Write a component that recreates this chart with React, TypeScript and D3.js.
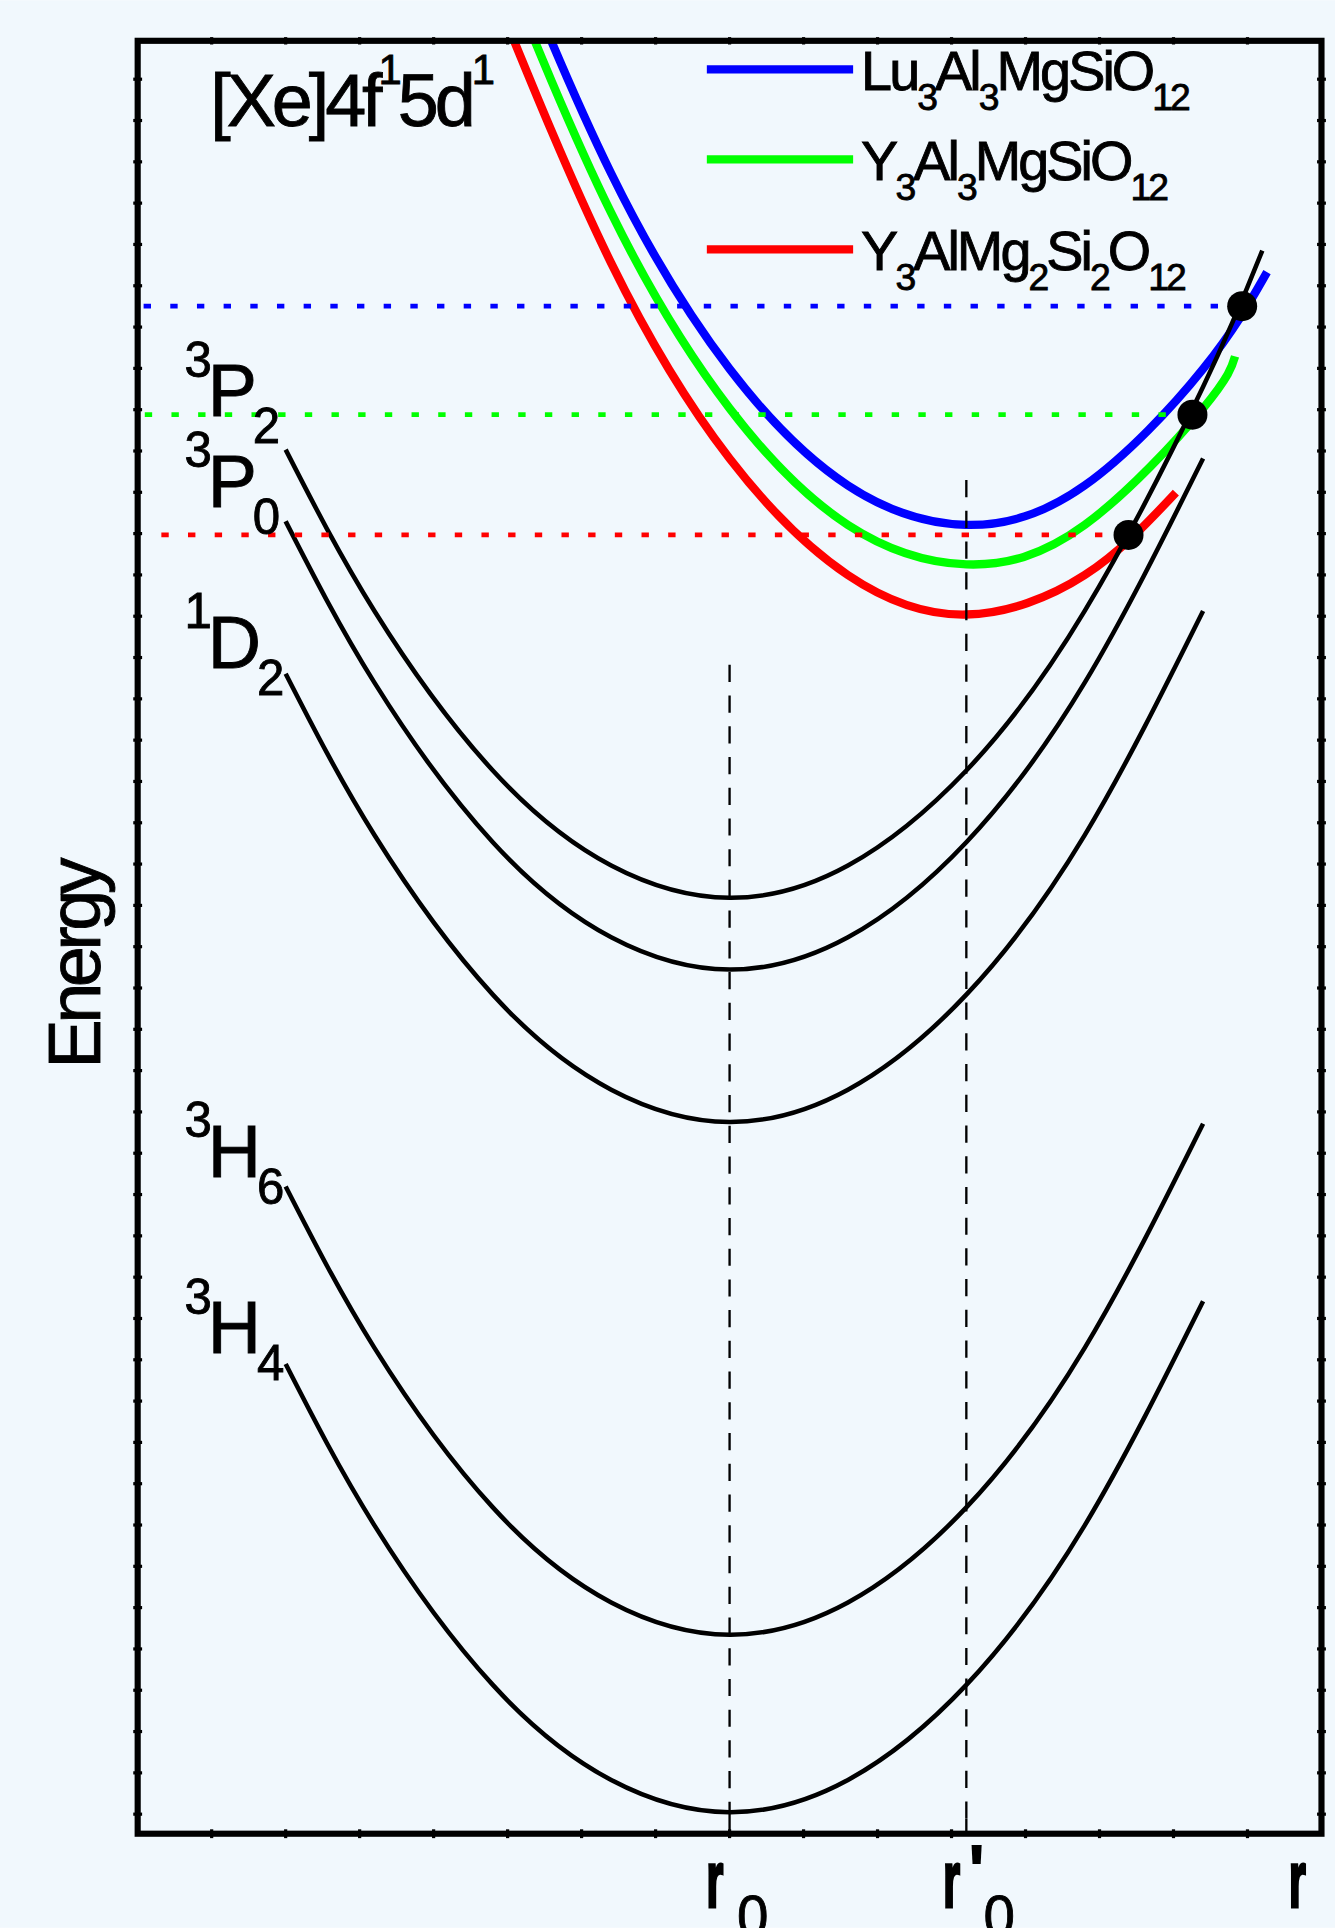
import * as d3 from "d3";

// Pr3+ energy levels (configurational coordinate diagram), arbitrary units.
// r = configurational coordinate, E = energy.

const termSup = ["3", "3", "1", "3", "3"];
const termLetter = ["P", "P", "D", "H", "H"];
const termSub = ["2", "0", "2", "6", "4"];

const levelR = [1.25, 2, 3, 4, 5, 6, 7, 8, 9];
const level3P2R = [1.25, 2, 3, 4, 5, 6, 7, 8, 9, 9.5];
const level3P2E = [7.72, 6.82, 5.93, 5.4, 5.22, 5.4, 5.93, 6.82, 8.07, 8.83];
const level3P0E = [7.32, 6.42, 5.53, 5.0, 4.82, 5.0, 5.53, 6.42, 7.67];
const level1D2E = [6.47, 5.57, 4.68, 4.15, 3.97, 4.15, 4.68, 5.57, 6.82];
const level3H6E = [3.61, 2.71, 1.82, 1.29, 1.11, 1.29, 1.82, 2.71, 3.96];
const level3H4E = [2.62, 1.72, 0.83, 0.3, 0.12, 0.3, 0.83, 1.72, 2.97];

// [Xe]4f1 5d1 band for the three hosts
const hostNames = ["Lu3Al3MgSiO12", "Y3Al3MgSiO12", "Y3AlMg2Si2O12"];
const luR = [3, 4, 5, 6, 7, 8, 9, 9.54];
const luE = [10.79, 9.26, 8.17, 7.52, 7.3, 7.52, 8.17, 8.71];
const yamR = [3, 4, 5, 6, 7, 8, 9, 9.27];
const yamE = [10.57, 9.04, 7.95, 7.3, 7.08, 7.3, 7.95, 8.24];
const yamsR = [3, 4, 5, 6, 7, 8, 8.77];
const yamsE = [10.29, 8.76, 7.67, 7.02, 6.8, 7.02, 7.48];

// crossing points of each 5d curve with 3P2
const crossR = [9.33, 8.91, 8.37];
const crossE = [8.52, 7.915, 7.244];

// equilibrium positions and the top of their guide lines
const eqR = [5, 7];
const eqTopE = [6.52, 7.55];

// ---- layout (viewBox units, picture is scaled up to 1335 x 1928) ----
const W = 1086;
const H = 1568;
const frame = { left: 112, top: 33, right: 1075, bottom: 1491.5 };
const FONT = "'Liberation Sans', Arial, Helvetica, sans-serif";
const TEXT_STROKE = 0.7;
const hostColor = ["#0000ff", "#00ff00", "#ff0000"];
const dottedStartR = [0.05, 0.06, 0.2];
const termLabelDy = [-27, -12, -5, -8, -9];

const x = d3.scaleLinear().domain([0, 10]).range([frame.left, frame.right]);
const y = d3.scaleLinear().domain([0, 10]).range([frame.bottom, frame.top]);

const line = d3
  .line<[number, number]>()
  .x((d) => x(d[0]))
  .y((d) => y(d[1]))
  .curve(d3.curveNatural);

const zip = (rs: number[], es: number[]) => rs.map((r, i) => [r, es[i]] as [number, number]);

const levels = [
  zip(level3P2R, level3P2E),
  zip(levelR, level3P0E),
  zip(levelR, level1D2E),
  zip(levelR, level3H6E),
  zip(levelR, level3H4E),
];
const bands = [zip(luR, luE), zip(yamR, yamE), zip(yamsR, yamsE)];

const xMinor = d3.range(0.625, 10, 0.625);
const yMinor = d3.range(0.109, 10, 0.2304);

function Formula({ text, x0, base }: { text: string; x0: number; base: number }) {
  const parts = text.match(/[A-Za-z]+|\d+/g) || [];
  return (
    <text
      x={x0}
      y={base}
      fontFamily={FONT}
      fontSize={45.4}
      letterSpacing={-2.4}
      fill="#000"
      stroke="#000"
      strokeWidth={TEXT_STROKE}
    >
      {parts.map((p, i) =>
        /\d/.test(p) ? (
          <tspan key={i} y={base + 16.3} fontSize={30.3}>
            {p}
          </tspan>
        ) : (
          <tspan key={i} y={base}>
            {p}
          </tspan>
        )
      )}
    </text>
  );
}

function AxisLabel({ r, prime, sub }: { r: number; prime: boolean; sub: string }) {
  const left = x(r) - 19;
  const base = 1551;
  return (
    <g transform={`translate(${left},${base})`} fontFamily={FONT}>
      <text transform="scale(0.55,1)" fontSize={65} fontWeight="bold" stroke="#000" strokeWidth={2.5}>
        r
      </text>
      {prime && (
        <text x={20} y={-8} fontSize={62} fontWeight="bold">
          '
        </text>
      )}
      {sub && (
        <text x={prime ? 33 : 25} y={24} fontSize={46} stroke="#000" strokeWidth={TEXT_STROKE}>
          {sub}
        </text>
      )}
    </g>
  );
}

export default function App() {
  return (
    <svg
      width={1335}
      height={1928}
      viewBox={`0 0 ${W} ${H}`}
      style={{ position: "absolute", left: 0, top: 0, display: "block" }}
    >
      <rect x={0} y={0} width={W} height={H} fill="#f1f8fd" />
      <defs>
        <clipPath id="plot">
          <rect x={frame.left} y={frame.top} width={frame.right - frame.left} height={frame.bottom - frame.top} />
        </clipPath>
      </defs>

      <g clipPath="url(#plot)">
        {/* 5d curves */}
        {bands.map((b, i) => (
          <path key={i} d={line(b) || ""} fill="none" stroke={hostColor[i]} strokeWidth={6.8} />
        ))}
        {/* 4f levels */}
        {levels.map((l, i) => (
          <path key={i} d={line(l) || ""} fill="none" stroke="#000" strokeWidth={3.7} />
        ))}
        {/* dotted levels to crossing points */}
        {crossE.map((e, i) => (
          <line
            key={i}
            x1={x(dottedStartR[i])}
            x2={x(crossR[i])}
            y1={y(e)}
            y2={y(e)}
            stroke={hostColor[i]}
            strokeWidth={3.8}
            strokeDasharray="6 15.7"
          />
        ))}
        {/* equilibrium guide lines */}
        {eqR.map((r, i) => (
          <line
            key={i}
            x1={x(r)}
            x2={x(r)}
            y1={y(eqTopE[i])}
            y2={frame.bottom}
            stroke="#000"
            strokeWidth={1.9}
            strokeDasharray="14 11"
          />
        ))}
        {eqR.map((r, i) => (
          <line key={"t" + i} x1={x(r)} x2={x(r)} y1={frame.bottom} y2={frame.bottom - 12} stroke="#000" strokeWidth={1.9} />
        ))}
        {crossR.map((r, i) => (
          <circle key={i} cx={x(r)} cy={y(crossE[i])} r={12.2} fill="#000" />
        ))}
      </g>

      {/* frame with small tick nubs */}
      <rect
        x={frame.left}
        y={frame.top}
        width={frame.right - frame.left}
        height={frame.bottom - frame.top}
        fill="none"
        stroke="#000"
        strokeWidth={5}
      />
      <g stroke="#000" strokeWidth={2.6}>
        {yMinor.map((e, i) => (
          <g key={i}>
            <line x1={frame.left - 3.6} x2={frame.left + 3.6} y1={y(e)} y2={y(e)} />
            <line x1={frame.right - 3.6} x2={frame.right + 3.6} y1={y(e)} y2={y(e)} />
          </g>
        ))}
        {xMinor.map((r, i) => (
          <g key={i}>
            <line x1={x(r)} x2={x(r)} y1={frame.bottom - 3.6} y2={frame.bottom + 3.6} />
            <line x1={x(r)} x2={x(r)} y1={frame.top - 3} y2={frame.top + 3} />
          </g>
        ))}
      </g>

      {/* legend */}
      {hostNames.map((name, i) => {
        const base = 73.2 + i * 73.25;
        return (
          <g key={name}>
            <line x1={575} x2={694} y1={base - 17} y2={base - 17} stroke={hostColor[i]} strokeWidth={6.8} />
            <Formula text={name} x0={700.5} base={base} />
          </g>
        );
      })}

      {/* configuration label */}
      <text
        x={171}
        y={102.5}
        fontFamily={FONT}
        fontSize={60}
        letterSpacing={-3.3}
        fill="#000"
        stroke="#000"
        strokeWidth={TEXT_STROKE}
      >
        [Xe]4f
        <tspan fontSize={34} y={68}>
          1
        </tspan>
        <tspan y={102.5}>5d</tspan>
        <tspan fontSize={34} y={68}>
          1
        </tspan>
      </text>

      {/* term labels */}
      {levels.map((l, i) => {
        const base = y(l[0][1]) + termLabelDy[i];
        return (
          <text
            key={i}
            x={150}
            y={base}
            fontFamily={FONT}
            fontSize={60}
            letterSpacing={-3.3}
            fill="#000"
            stroke="#000"
            strokeWidth={TEXT_STROKE}
          >
            <tspan fontSize={40} y={base - 32}>
              {termSup[i]}
            </tspan>
            <tspan y={base}>{termLetter[i]}</tspan>
            <tspan fontSize={40} y={base + 22}>
              {termSub[i]}
            </tspan>
          </text>
        );
      })}

      {/* axis labels */}
      <text
        transform="translate(81.4,785) rotate(-90)"
        textAnchor="middle"
        fontFamily={FONT}
        fontSize={60}
        letterSpacing={-3.7}
        fill="#000"
        stroke="#000"
        strokeWidth={TEXT_STROKE}
      >
        Energy
      </text>
      <AxisLabel r={eqR[0]} prime={false} sub="0" />
      <AxisLabel r={eqR[1]} prime={true} sub="0" />
      <AxisLabel r={9.92} prime={false} sub="" />
    </svg>
  );
}
